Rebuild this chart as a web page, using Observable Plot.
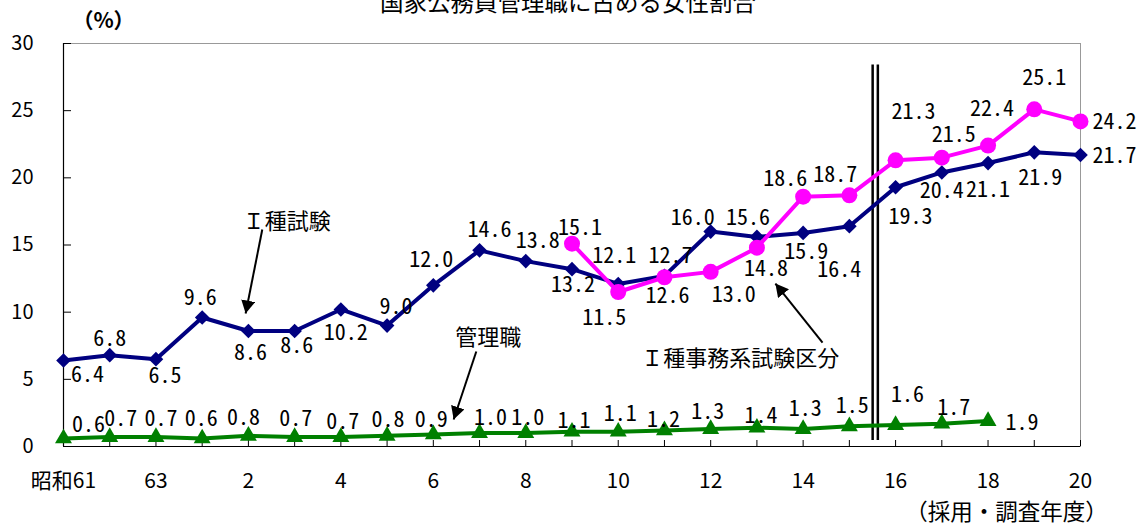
<!DOCTYPE html>
<html><head><meta charset="utf-8">
<script src="https://cdn.jsdelivr.net/npm/d3@7"></script>
<script src="https://cdn.jsdelivr.net/npm/@observablehq/plot@0.6"></script>
<style>
html,body{margin:0;padding:0;background:#fff;}
</style></head><body>
<div id="chart"></div>
<script>
// ---- data ----
const years = [1986,1987,1988,1989,1990,1991,1992,1993,1994,1995,1996,1997,1998,1999,2000,2001,2002,2003,2004,2005,2006,2007,2008];
const shuExamRate = [6.4,6.8,6.5,9.6,8.6,8.6,10.2,9.0,12.0,14.6,13.8,13.2,12.1,12.7,16.0,15.6,15.9,16.4,19.3,20.4,21.1,21.9,21.7];
const jimuYears = [1997,1998,1999,2000,2001,2002,2003,2004,2005,2006,2007,2008];
const jimuRate = [15.1,11.5,12.6,13.0,14.8,18.6,18.7,21.3,21.5,22.4,25.1,24.2];
const mgrYears = [1986,1987,1988,1989,1990,1991,1992,1993,1994,1995,1996,1997,1998,1999,2000,2001,2002,2003,2004,2005,2006];
const mgrRate = [0.6,0.7,0.7,0.6,0.8,0.7,0.7,0.8,0.9,1.0,1.0,1.1,1.1,1.2,1.3,1.4,1.3,1.5,1.6,1.7,1.9];
const yTicks = [0,5,10,15,20,25,30];
const xTickYears = [1986,1988,1990,1992,1994,1996,1998,2000,2002,2004,2006,2008];
const xTickLabels = ["昭和61","63","2","4","6","8","10","12","14","16","18","20"];
const seriesNames = ["Ｉ種試験","Ｉ種事務系試験区分","管理職"];
const chartTitle = "国家公務員管理職に占める女性割合";
const yUnit = "（%）";
const xUnit = "（採用・調査年度）";
const eraBreak = 2003.56; // boundary between 15 and 16

// ---- tables built from the arrays ----
const shu = years.map((year, i) => ({year, v: shuExamRate[i]}));
const jimu = jimuYears.map((year, i) => ({year, v: jimuRate[i]}));
const mgr = mgrYears.map((year, i) => ({year, v: mgrRate[i]}));
const xLabelMap = new Map(xTickYears.map((y, i) => [y, xTickLabels[i]]));

// ---- label placement (pixel offsets from each point) ----
const shuOff = [[24,14],[0,-16],[9,17],[-2,-20],[2,22],[2,15],[5,23],[9,-19],[-2,-25],[10,-20],[12,-20],[1,16],[-4,-28],[6,-20],[-18,-14],[-9,-19],[3,19],[-10,44],[15,30],[0,18],[0,27],[6,26],[34,1]];
const jimuOff = [[8,-16],[-14,26],[3,19],[23,23],[9,21],[-18,-18],[-14,-20],[18,-48],[12,-23],[4,-37],[10,-31],[34,1]];
const mgrOff = [[25,-13],[11,-18],[5,-18],[-1,-19],[-5,-18],[1,-18],[2,-15],[1,-16],[-2,-14],[11,-15],[2,-15],[2,-11],[2,-18],[-1,-10],[-3,-17],[4,-12],[2,-20],[3,-20],[12,-30],[12,-16],[34,2]];

const FONT = "'Noto Sans CJK JP', sans-serif";
const LABEL_FONT = "'Noto Sans Mono CJK JP', 'Noto Sans CJK JP', sans-serif";
const NAVY = "#000080", MAGENTA = "#ff00ff", GREEN = "#008000";

function valueLabels(data, offs) {
  return data.map((d, i) => Plot.text([d], {
    x: "year", y: "v", text: d => d.v.toFixed(1),
    dx: offs[i][0], dy: offs[i][1],
    fontSize: 22, fontFamily: LABEL_FONT, fill: "black"
  }));
}

const annots = [
  {x: 1990.83, y: 16.75, t: seriesNames[0]},
  {x: 2000.64, y: 6.55, t: seriesNames[1]},
  {x: 1995.19, y: 8.08, t: seriesNames[2]}
];
const arrows = [
  {x1: 1990.30, y1: 16.15, x2: 1989.94, y2: 9.90},
  {x1: 2002.42, y1: 7.74, x2: 2001.40, y2: 12.13},
  {x1: 1994.93, y1: 7.07, x2: 1994.44, y2: 2.01}
];

const svg = Plot.plot({
  width: 1142, height: 524,
  marginLeft: 63, marginRight: 62, marginTop: 43, marginBottom: 78,
  x: {domain: [1986, 2008], axis: null},
  y: {domain: [0, 30], axis: null},
  style: {fontFamily: FONT, fontSize: "20px", background: "#fff", color: "black", overflow: "visible"},
  marks: [
    Plot.frame({stroke: "#999", strokeWidth: 1}),
    Plot.ruleX([1986], {stroke: "black", strokeWidth: 1.2}),
    Plot.ruleY([0], {stroke: "black", strokeWidth: 1.2}),
    Plot.tickX(years, {x: d => d, insetTop: 397, stroke: "black"}),
    Plot.tickY(yTicks, {y: d => d, insetRight: 1009, stroke: "black"}),
    Plot.axisY(yTicks, {tickSize: 0, tickPadding: 30, fontSize: 20, label: null}),
    Plot.axisX(xTickYears, {tickSize: 0, tickPadding: 27, fontSize: 21, label: null, tickFormat: d => xLabelMap.get(d)}),
    // era separator (double line)
    Plot.ruleX([eraBreak], {y1: 0.45, y2: 28.4, dx: -2.6, stroke: "black", strokeWidth: 2.5}),
    Plot.ruleX([eraBreak], {y1: 0.45, y2: 28.4, dx: 2.6, stroke: "black", strokeWidth: 2.5}),
    // series
    Plot.line(mgr, {x: "year", y: "v", stroke: GREEN, strokeWidth: 4}),
    Plot.dot(mgr, {x: "year", y: "v", symbol: "triangle", r: 6.3, fill: GREEN, stroke: "none"}),
    Plot.line(shu, {x: "year", y: "v", stroke: NAVY, strokeWidth: 4}),
    Plot.dot(shu, {x: "year", y: "v", symbol: "diamond2", r: 6.6, fill: NAVY, stroke: "none"}),
    Plot.line(jimu, {x: "year", y: "v", stroke: MAGENTA, strokeWidth: 4}),
    Plot.dot(jimu, {x: "year", y: "v", r: 8, fill: MAGENTA, stroke: "none"}),
    ...valueLabels(shu, shuOff),
    ...valueLabels(jimu, jimuOff),
    ...valueLabels(mgr, mgrOff),
    // annotations
    Plot.text(annots, {x: "x", y: "y", text: "t", fontSize: 22, fill: "black"}),
    Plot.link(arrows, {x1: "x1", y1: "y1", x2: "x2", y2: "y2", stroke: "black", strokeWidth: 2}),
    // titles
    Plot.text([chartTitle], {text: d => d, frameAnchor: "top", textAnchor: "middle", lineAnchor: "middle", dx: -4, dy: -40, fontSize: 23.5, fill: "black"}),
    Plot.text([yUnit], {text: d => d, frameAnchor: "top-left", textAnchor: "middle", lineAnchor: "middle", dx: 40, dy: -22, fontSize: 21, fontWeight: "bold", fill: "black"}),
    Plot.text([xUnit], {text: d => d, frameAnchor: "bottom-right", textAnchor: "middle", lineAnchor: "middle", dx: -74, dy: 66, fontSize: 22.5, fill: "black"})
  ]
});

// filled arrowheads for the annotation arrows
const s = d3.select(svg);
const defs = s.insert("defs", ":first-child");
defs.append("marker")
  .attr("id", "ah").attr("markerUnits", "userSpaceOnUse")
  .attr("markerWidth", 14).attr("markerHeight", 14)
  .attr("refX", 13).attr("refY", 7).attr("orient", "auto")
  .attr("viewBox", "0 0 14 14")
  .append("path").attr("d", "M0,0L13,7L0,14Z").attr("fill", "black");
s.selectAll('g[aria-label="link"] path').attr("marker-end", "url(#ah)");

document.getElementById("chart").appendChild(svg);
</script>
</body></html>
